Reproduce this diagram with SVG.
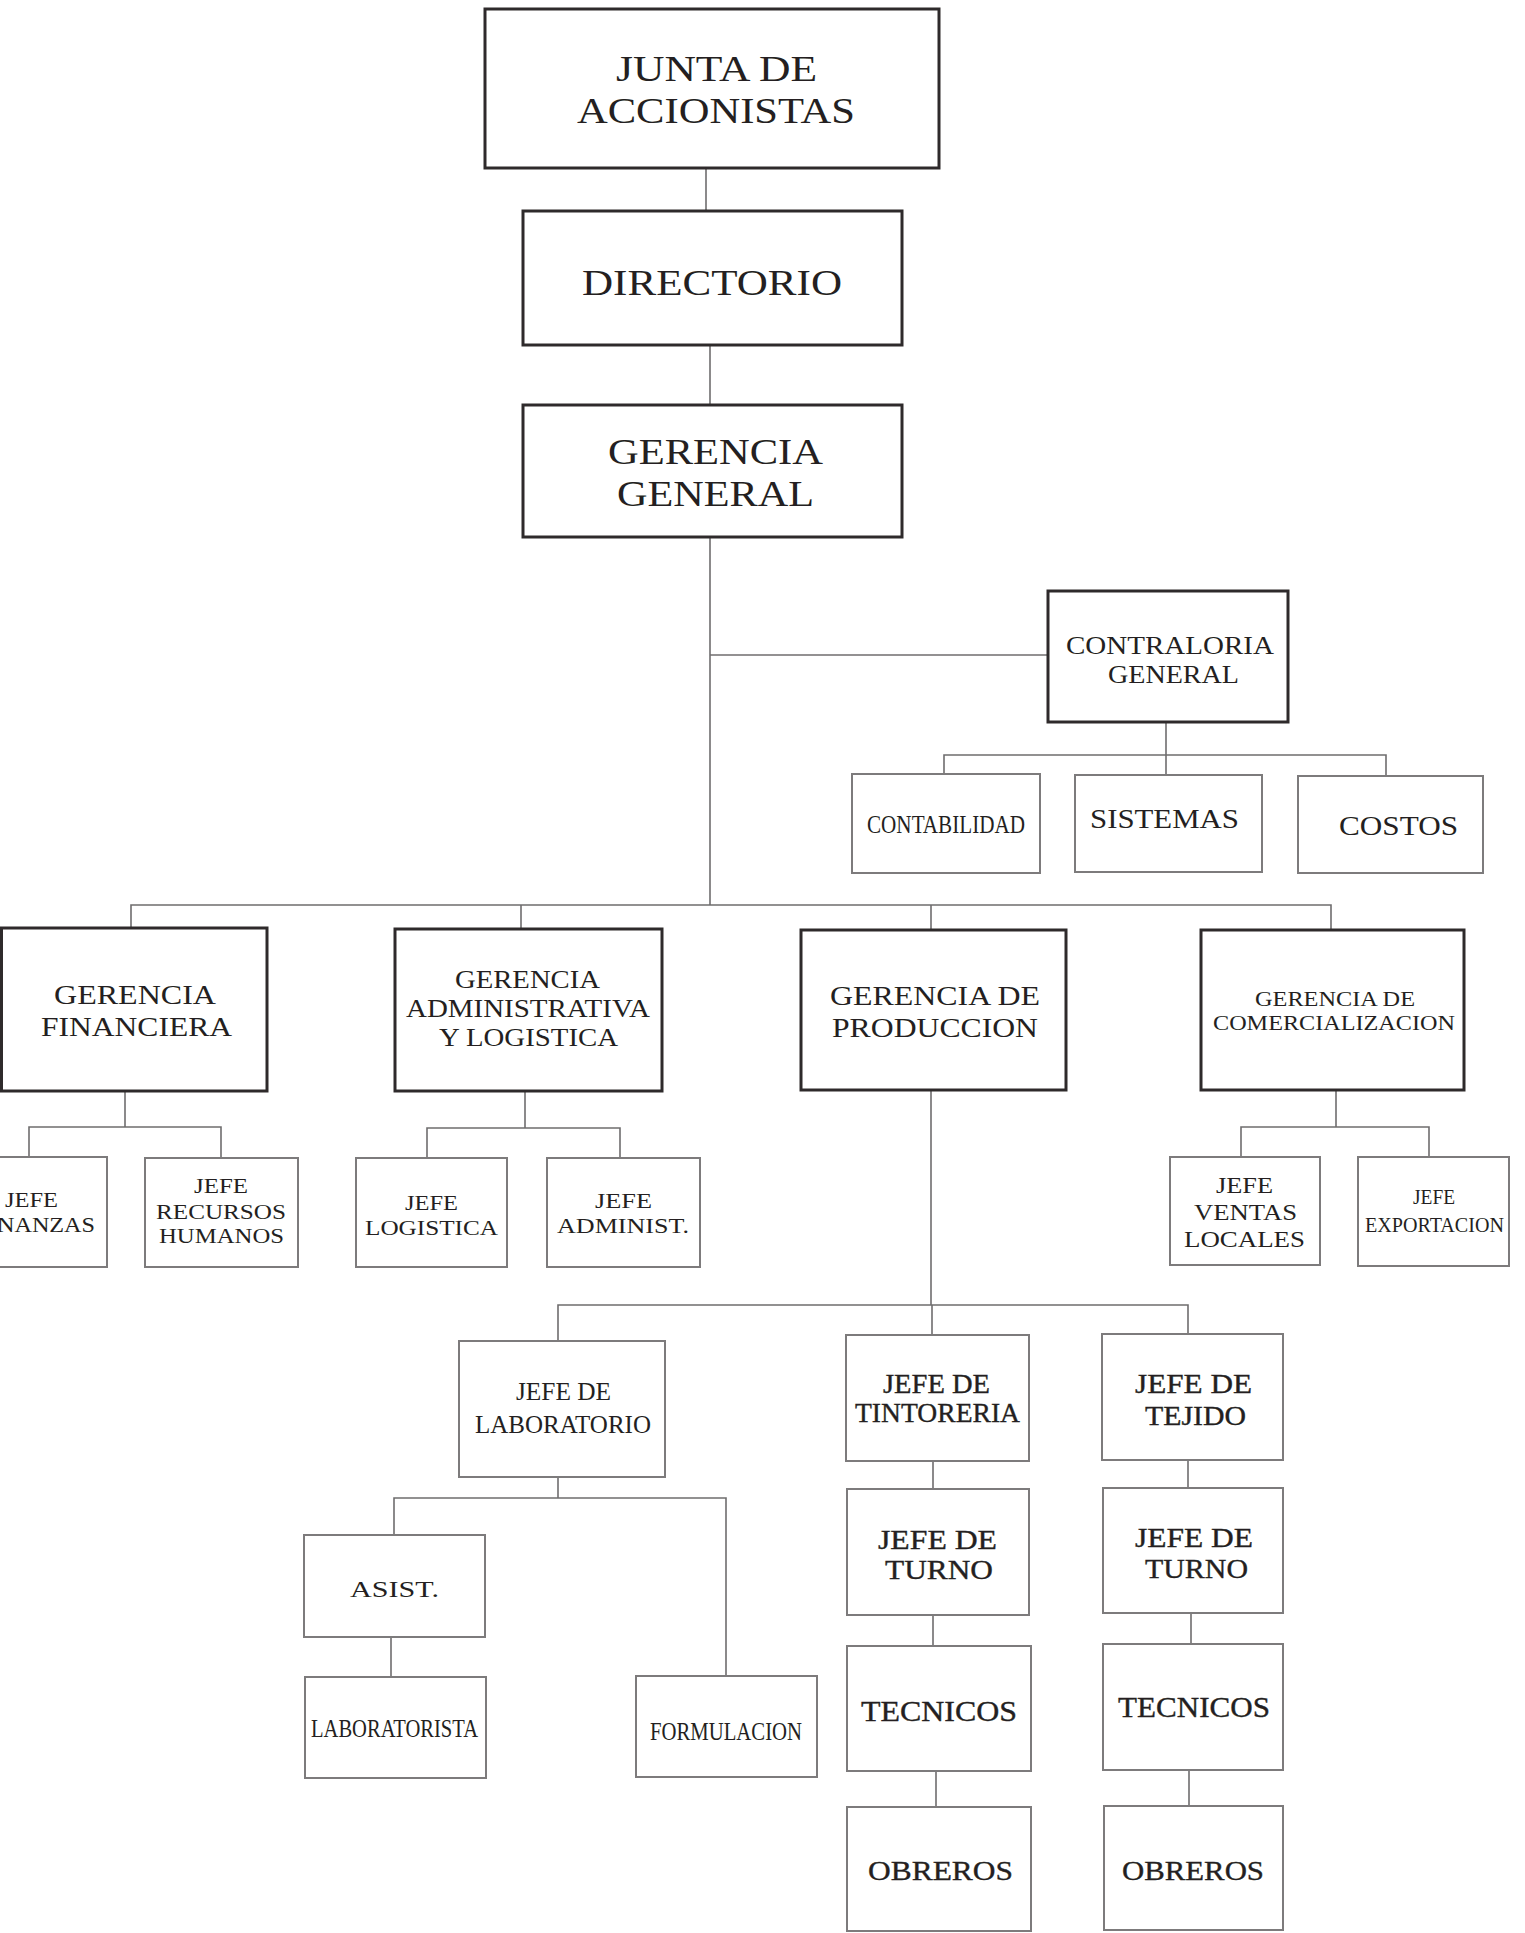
<svg xmlns="http://www.w3.org/2000/svg" width="1525" height="1933" viewBox="0 0 1525 1933">
<style>
.bg{fill:#ffffff}
.bm{fill:#ffffff;stroke:#2e2a2b;stroke-width:3}
.bs{fill:#ffffff;stroke:#7d7b7c;stroke-width:2}
.ln{fill:none;stroke:#6f6d6e;stroke-width:1.6}
text{font-family:"Liberation Serif","Times New Roman",serif;fill:#241f21}
.b{stroke:#241f21;stroke-width:0.35}
</style>
<rect class="bg" x="0" y="0" width="1525" height="1933"/>
<g id="connectors">
<path class="ln" d="M706 168V211"/>
<path class="ln" d="M710 345V405"/>
<path class="ln" d="M710 537V905"/>
<path class="ln" d="M710 655H1048"/>
<path class="ln" d="M1166 722V774"/>
<path class="ln" d="M944 774V755H1386V776"/>
<path class="ln" d="M131 928V905H1331V930"/>
<path class="ln" d="M521 905V929"/>
<path class="ln" d="M931 905V930"/>
<path class="ln" d="M125 1091V1127"/>
<path class="ln" d="M29 1157V1127H221V1158"/>
<path class="ln" d="M525 1091V1128"/>
<path class="ln" d="M427 1158V1128H620V1158"/>
<path class="ln" d="M1336 1090V1127"/>
<path class="ln" d="M1241 1157V1127H1429V1157"/>
<path class="ln" d="M931 1090V1305"/>
<path class="ln" d="M558 1341V1305H1188V1334"/>
<path class="ln" d="M932 1305V1335"/>
<path class="ln" d="M558 1477V1498"/>
<path class="ln" d="M394 1535V1498H726V1676"/>
<path class="ln" d="M391 1637V1677"/>
<path class="ln" d="M933 1461V1489"/>
<path class="ln" d="M933 1615V1646"/>
<path class="ln" d="M936 1771V1807"/>
<path class="ln" d="M1188 1460V1488"/>
<path class="ln" d="M1191 1613V1644"/>
<path class="ln" d="M1189 1770V1806"/>
</g>
<g id="junta">
<rect class="bm" x="485" y="9" width="454" height="159"/>
<text x="616" y="81" font-size="36" textLength="201" lengthAdjust="spacingAndGlyphs">JUNTA DE</text>
<text x="577" y="123" font-size="36" textLength="278" lengthAdjust="spacingAndGlyphs">ACCIONISTAS</text>
</g>
<g id="directorio">
<rect class="bm" x="523" y="211" width="379" height="134"/>
<text x="582" y="295" font-size="36" textLength="260" lengthAdjust="spacingAndGlyphs">DIRECTORIO</text>
</g>
<g id="gerencia-general">
<rect class="bm" x="523" y="405" width="379" height="132"/>
<text x="608" y="464" font-size="36" textLength="215" lengthAdjust="spacingAndGlyphs">GERENCIA</text>
<text x="617" y="506" font-size="36" textLength="197" lengthAdjust="spacingAndGlyphs">GENERAL</text>
</g>
<g id="contraloria">
<rect class="bm" x="1048" y="591" width="240" height="131"/>
<text x="1066" y="654" font-size="26" textLength="208" lengthAdjust="spacingAndGlyphs">CONTRALORIA</text>
<text x="1108" y="683" font-size="26" textLength="131" lengthAdjust="spacingAndGlyphs">GENERAL</text>
</g>
<g id="contabilidad">
<rect class="bs" x="852" y="774" width="188" height="99"/>
<text x="867" y="833" font-size="25" textLength="158" lengthAdjust="spacingAndGlyphs">CONTABILIDAD</text>
</g>
<g id="sistemas">
<rect class="bs" x="1075" y="775" width="187" height="97"/>
<text x="1090" y="828" font-size="27" textLength="149" lengthAdjust="spacingAndGlyphs">SISTEMAS</text>
</g>
<g id="costos">
<rect class="bs" x="1298" y="776" width="185" height="97"/>
<text x="1339" y="835" font-size="27" textLength="119" lengthAdjust="spacingAndGlyphs">COSTOS</text>
</g>
<g id="gerencia-financiera">
<rect class="bm" x="1.5" y="928" width="265.5" height="163"/>
<text x="54" y="1004" font-size="27" textLength="162" lengthAdjust="spacingAndGlyphs">GERENCIA</text>
<text x="41" y="1036" font-size="27" textLength="191" lengthAdjust="spacingAndGlyphs">FINANCIERA</text>
</g>
<g id="jefe-finanzas">
<rect class="bs" x="-3" y="1157" width="110" height="110"/>
<text x="5" y="1207" font-size="22" textLength="53" lengthAdjust="spacingAndGlyphs">JEFE</text>
<text x="-3" y="1232" font-size="22" textLength="98" lengthAdjust="spacingAndGlyphs">NANZAS</text>
</g>
<g id="jefe-rrhh">
<rect class="bs" x="145" y="1158" width="153" height="109"/>
<text x="194" y="1193" font-size="20" textLength="54" lengthAdjust="spacingAndGlyphs">JEFE</text>
<text x="156" y="1219" font-size="20" textLength="130" lengthAdjust="spacingAndGlyphs">RECURSOS</text>
<text x="159" y="1243" font-size="20" textLength="125" lengthAdjust="spacingAndGlyphs">HUMANOS</text>
</g>
<g id="gerencia-administrativa">
<rect class="bm" x="395" y="929" width="267" height="162"/>
<text x="455" y="988" font-size="25" textLength="145" lengthAdjust="spacingAndGlyphs">GERENCIA</text>
<text x="406" y="1017" font-size="25" textLength="244" lengthAdjust="spacingAndGlyphs">ADMINISTRATIVA</text>
<text x="439" y="1046" font-size="25" textLength="179" lengthAdjust="spacingAndGlyphs">Y LOGISTICA</text>
</g>
<g id="jefe-logistica">
<rect class="bs" x="356" y="1158" width="151" height="109"/>
<text x="405" y="1210" font-size="22" textLength="53" lengthAdjust="spacingAndGlyphs">JEFE</text>
<text x="365" y="1235" font-size="22" textLength="133" lengthAdjust="spacingAndGlyphs">LOGISTICA</text>
</g>
<g id="jefe-administ">
<rect class="bs" x="547" y="1158" width="153" height="109"/>
<text x="595" y="1208" font-size="22" textLength="57" lengthAdjust="spacingAndGlyphs">JEFE</text>
<text x="557" y="1233" font-size="22" textLength="132" lengthAdjust="spacingAndGlyphs">ADMINIST.</text>
</g>
<g id="gerencia-produccion">
<rect class="bm" x="801" y="930" width="265" height="160"/>
<text x="830" y="1005" font-size="28" textLength="210" lengthAdjust="spacingAndGlyphs">GERENCIA DE</text>
<text x="832" y="1037" font-size="28" textLength="206" lengthAdjust="spacingAndGlyphs">PRODUCCION</text>
</g>
<g id="gerencia-comercializacion">
<rect class="bm" x="1201" y="930" width="263" height="160"/>
<text x="1255" y="1006" font-size="22" textLength="160" lengthAdjust="spacingAndGlyphs">GERENCIA DE</text>
<text x="1213" y="1030" font-size="22" textLength="242" lengthAdjust="spacingAndGlyphs">COMERCIALIZACION</text>
</g>
<g id="jefe-ventas-locales">
<rect class="bs" x="1170" y="1157" width="150" height="108"/>
<text x="1216" y="1193" font-size="23" textLength="57" lengthAdjust="spacingAndGlyphs">JEFE</text>
<text x="1194" y="1220" font-size="23" textLength="103" lengthAdjust="spacingAndGlyphs">VENTAS</text>
<text x="1184" y="1247" font-size="23" textLength="121" lengthAdjust="spacingAndGlyphs">LOCALES</text>
</g>
<g id="jefe-exportacion">
<rect class="bs" x="1358" y="1157" width="151" height="109"/>
<text x="1413" y="1204" font-size="21" textLength="42" lengthAdjust="spacingAndGlyphs">JEFE</text>
<text x="1365" y="1232" font-size="21" textLength="139" lengthAdjust="spacingAndGlyphs">EXPORTACION</text>
</g>
<g id="jefe-laboratorio">
<rect class="bs" x="459" y="1341" width="206" height="136"/>
<text x="516" y="1400" font-size="25" textLength="95" lengthAdjust="spacingAndGlyphs">JEFE DE</text>
<text x="475" y="1433" font-size="25" textLength="176" lengthAdjust="spacingAndGlyphs">LABORATORIO</text>
</g>
<g id="asist">
<rect class="bs" x="304" y="1535" width="181" height="102"/>
<text x="350" y="1597" font-size="24" textLength="89" lengthAdjust="spacingAndGlyphs">ASIST.</text>
</g>
<g id="laboratorista">
<rect class="bs" x="305" y="1677" width="181" height="101"/>
<text x="311" y="1737" font-size="25" textLength="167" lengthAdjust="spacingAndGlyphs">LABORATORISTA</text>
</g>
<g id="formulacion">
<rect class="bs" x="636" y="1676" width="181" height="101"/>
<text x="650" y="1740" font-size="25" textLength="152" lengthAdjust="spacingAndGlyphs">FORMULACION</text>
</g>
<g id="jefe-tintoreria">
<rect class="bs" x="846" y="1335" width="183" height="126"/>
<text class="b" x="883" y="1393" font-size="27" textLength="107" lengthAdjust="spacingAndGlyphs">JEFE DE</text>
<text class="b" x="855" y="1422" font-size="27" textLength="165" lengthAdjust="spacingAndGlyphs">TINTORERIA</text>
</g>
<g id="jefe-turno-tintoreria">
<rect class="bs" x="847" y="1489" width="182" height="126"/>
<text class="b" x="878" y="1549" font-size="28" textLength="119" lengthAdjust="spacingAndGlyphs">JEFE DE</text>
<text class="b" x="885" y="1579" font-size="28" textLength="108" lengthAdjust="spacingAndGlyphs">TURNO</text>
</g>
<g id="tecnicos-tintoreria">
<rect class="bs" x="847" y="1646" width="184" height="125"/>
<text class="b" x="861" y="1721" font-size="29" textLength="156" lengthAdjust="spacingAndGlyphs">TECNICOS</text>
</g>
<g id="obreros-tintoreria">
<rect class="bs" x="847" y="1807" width="184" height="124"/>
<text class="b" x="868" y="1880" font-size="28" textLength="145" lengthAdjust="spacingAndGlyphs">OBREROS</text>
</g>
<g id="jefe-tejido">
<rect class="bs" x="1102" y="1334" width="181" height="126"/>
<text class="b" x="1135" y="1393" font-size="28" textLength="117" lengthAdjust="spacingAndGlyphs">JEFE DE</text>
<text class="b" x="1145" y="1425" font-size="28" textLength="101" lengthAdjust="spacingAndGlyphs">TEJIDO</text>
</g>
<g id="jefe-turno-tejido">
<rect class="bs" x="1103" y="1488" width="180" height="125"/>
<text class="b" x="1135" y="1547" font-size="28" textLength="118" lengthAdjust="spacingAndGlyphs">JEFE DE</text>
<text class="b" x="1145" y="1578" font-size="28" textLength="103" lengthAdjust="spacingAndGlyphs">TURNO</text>
</g>
<g id="tecnicos-tejido">
<rect class="bs" x="1103" y="1644" width="180" height="126"/>
<text class="b" x="1118" y="1717" font-size="29" textLength="152" lengthAdjust="spacingAndGlyphs">TECNICOS</text>
</g>
<g id="obreros-tejido">
<rect class="bs" x="1104" y="1806" width="179" height="124"/>
<text class="b" x="1122" y="1880" font-size="28" textLength="142" lengthAdjust="spacingAndGlyphs">OBREROS</text>
</g>
</svg>
